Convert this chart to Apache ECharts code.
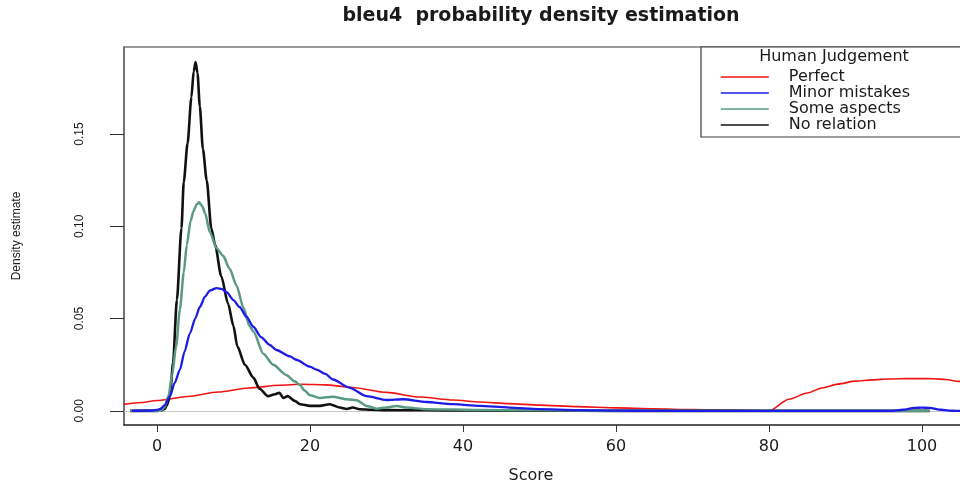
<!DOCTYPE html>
<html>
<head>
<meta charset="utf-8">
<script src="https://cdn.jsdelivr.net/npm/echarts@6/dist/echarts.min.js"></script>
<style>html,body{margin:0;padding:0;background:#fff}#c{width:960px;height:489px}</style>
</head>
<body>
<div id="c"></div>
<script>
// ---- data ----
const chartTitle = "bleu4  probability density estimation";
const legendTitle = "Human Judgement";
const seriesNames = ["Perfect", "Minor mistakes", "Some aspects", "No relation"];
const xTicks = [0, 20, 40, 60, 80, 100];
const yTicks = [0, 0.05, 0.10, 0.15];

const perfectX = [-4.31,-2,0,4,8,12,16,19,22,25.6,30,34.3,38.7,42.2,46,50,55,60,65,70,75,79.5,80,82.6,85,87,89,91.3,93.5,95.7,98,99.8,101.5,103.1,104.8,107];
const perfectY = [0.0035,0.0045,0.0056,0.0078,0.0102,0.0124,0.0139,0.0144,0.0141,0.0127,0.0100,0.0075,0.0059,0.0048,0.0039,0.0031,0.0023,0.0016,0.0011,0.0007,0.0004,0.0001,0,0.0063,0.0097,0.0125,0.0145,0.0161,0.0168,0.0173,0.0175,0.0175,0.0174,0.0170,0.0160,0.0148];

const minorX = [-3.3,-0.5,0,0.4,1.0,1.7,2.3,3.0,3.6,4.3,5.0,5.6,6.3,6.9,7.8,8.5,9.1,10.0,10.8,11.7,12.6,13.6,14.75,15.6,17.4,18.2,20,20.85,22,23,25.2,27.4,30,32.2,35.2,38.7,42.2,46,50,55,60,65,96,97.5,99,100,101,102.5,103.5,104.5,107];
const minorY = [0,0.0002,0.0005,0.001,0.003,0.008,0.015,0.0223,0.032,0.042,0.050,0.0563,0.062,0.0652,0.0665,0.066,0.0643,0.060,0.0563,0.051,0.0456,0.040,0.0357,0.033,0.0295,0.0277,0.024,0.0223,0.020,0.017,0.0125,0.008,0.0059,0.0063,0.0048,0.0036,0.0027,0.0018,0.0009,0.0004,0.0001,0,0,0.0006,0.0016,0.0018,0.0016,0.0006,0.0001,0,0];

const someX = [-3.5,0.5,1.0,1.5,2.0,2.5,3.0,3.5,3.9,4.4,4.75,5.2,5.5,5.9,6.3,6.9,7.8,8.65,9.5,10.4,11.3,12.1,12.6,13.9,15.2,16.9,18.0,18.7,19.3,20,21.3,23,24.8,26.1,27.4,28.7,30,31.3,32.6,35.2,38.7,42,50,60,70,101];
const someY = [0,0,0.002,0.008,0.020,0.035,0.055,0.075,0.090,0.103,0.108,0.112,0.113,0.111,0.107,0.097,0.088,0.084,0.077,0.068,0.056,0.046,0.043,0.031,0.025,0.0195,0.016,0.014,0.011,0.0085,0.007,0.0077,0.0063,0.0058,0.0027,0.0012,0.0018,0.0027,0.0018,0.0009,0.0007,0.0005,0.0003,0.0001,0,0];

const noneX = [-3.5,0,0.5,1.0,1.3,1.7,2.1,2.6,3.2,3.5,4.0,4.5,4.8,5.05,5.3,5.6,6.0,6.5,7.1,7.6,8.4,9.3,10.0,10.5,11.5,12.6,13.4,14.5,15.4,16.0,16.5,17.1,18.0,18.7,20,21.3,22.6,23.9,24.8,25.6,26.5,28,30,35,40,50,60,101];
const noneY = [0,0,0.0002,0.001,0.003,0.008,0.026,0.060,0.099,0.124,0.145,0.170,0.184,0.189,0.183,0.165,0.142,0.125,0.099,0.090,0.073,0.058,0.046,0.035,0.025,0.018,0.012,0.008,0.009,0.0098,0.007,0.008,0.0054,0.0036,0.0027,0.0027,0.0036,0.0018,0.001,0.0018,0.0009,0.0006,0.0004,0.0003,0.0002,0.0001,0,0];

const seriesColors = ["#f01414", "#1c1ce6", "#5a9a84", "#111111"];
const seriesWidths = [1.6, 2.3, 2.5, 2.6];
const seriesZ = [3, 6, 5, 4];

function pairs(xs, ys) { return xs.map((x, i) => [x, ys[i]]); }
const allData = [pairs(perfectX, perfectY), pairs(minorX, minorY), pairs(someX, someY), pairs(noneX, noneY)];

const chart = echarts.init(document.getElementById('c'), null, {renderer: 'canvas'});
const X_MIN = -4.31, X_MAX = 104.97, Y_MIN = -0.00766, Y_MAX = 0.1972;
const axisFont = "DejaVu Sans";

const series = allData.map((d, i) => ({
  name: seriesNames[i],
  type: 'line',
  data: d,
  symbol: 'none',
  showSymbol: false,
  smooth: 0.25,
  smoothMonotone: 'x',
  lineStyle: {color: seriesColors[i], width: seriesWidths[i]},
  itemStyle: {color: seriesColors[i]},
  emphasis: {disabled: true},
  z: seriesZ[i],
  markLine: i === 0 ? {
    silent: true, symbol: 'none', label: {show: false},
    lineStyle: {color: '#c8c8c8', width: 1, type: 'solid'},
    data: [{yAxis: 0}], z: 2
  } : undefined
}));

chart.setOption({
  animation: false,
  backgroundColor: '#ffffff',
  grid: {left: 124, right: 0, top: 47, bottom: 60, containLabel: false},
  graphic: [
    {type: 'text', x: 541, y: 7, style: {text: chartTitle, font: 'bold 19px "DejaVu Sans"', fill: '#1a1a1a', align: 'center', verticalAlign: 'top'}},
    {type: 'rect', shape: {x: 701, y: 47, width: 300, height: 90}, style: {fill: '#ffffff', stroke: '#3a3a3a', lineWidth: 1.2}, z: 10},
    {type: 'text', x: 834, y: 49, style: {text: legendTitle, font: '16px "DejaVu Sans"', fill: '#1a1a1a', align: 'center', verticalAlign: 'top'}, z: 11}
  ],
  legend: {
    show: true,
    data: seriesNames,
    orient: 'vertical',
    left: 720, top: 69,
    itemWidth: 48, itemHeight: 10, itemGap: 0,
    padding: 0,
    selectedMode: false,
    itemStyle: {color: 'rgba(0,0,0,0)', borderWidth: 0, opacity: 0},
    lineStyle: {width: 1.6},
    textStyle: {fontFamily: axisFont, fontSize: 16, color: '#1a1a1a', lineHeight: 15, padding: [0, 0, 0, 15]},
    z: 12
  },
  xAxis: [{
    type: 'value', min: X_MIN, max: X_MAX,
    name: 'Score', nameLocation: 'middle', nameGap: 43,
    nameTextStyle: {fontFamily: axisFont, fontSize: 16, color: '#1a1a1a', padding: [0, 22, 0, 0]},
    axisLine: {show: true, onZero: false, lineStyle: {color: '#222', width: 1.5}},
    axisTick: {show: true, length: 7, lineStyle: {color: '#333', width: 1}, customValues: xTicks},
    axisLabel: {show: true, margin: 14, fontFamily: axisFont, fontSize: 16, color: '#1a1a1a', customValues: xTicks, formatter: v => String(v)},
    splitLine: {show: false}
  }, {
    type: 'value', min: X_MIN, max: X_MAX, position: 'top',
    axisLine: {show: true, onZero: false, lineStyle: {color: '#777', width: 1.5}},
    axisTick: {show: false}, axisLabel: {show: false}, splitLine: {show: false}
  }],
  yAxis: {
    type: 'value', min: Y_MIN, max: Y_MAX,
    name: 'Density estimate', nameLocation: 'middle', nameGap: 101, nameRotate: 90,
    nameTextStyle: {fontFamily: 'Liberation Sans', fontSize: 12, color: '#1a1a1a'},
    axisLine: {show: true, onZero: false, lineStyle: {color: '#444', width: 1.5}},
    axisTick: {show: true, length: 14, lineStyle: {color: '#333', width: 1}, customValues: yTicks},
    axisLabel: {show: true, rotate: 90, margin: 38, fontFamily: 'Liberation Sans', fontSize: 12, color: '#1a1a1a', customValues: yTicks, formatter: v => v.toFixed(2)},
    splitLine: {show: false}
  },
  series: series
});
</script>
</body>
</html>
